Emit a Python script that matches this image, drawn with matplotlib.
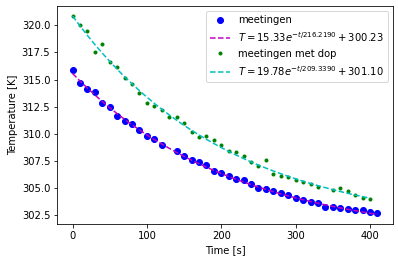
import numpy as np
import matplotlib
matplotlib.use("Agg")
import matplotlib.pyplot as plt

# meetingen (zonder dop), t = 130 s ontbreekt
t_open = [0, 10, 20, 30, 40, 50, 60, 70, 80, 90, 100, 110, 120,
          140, 150, 160, 170, 180, 190, 200, 210, 220, 230, 240, 250,
          260, 270, 280, 290, 300, 310, 320, 330, 340, 350, 360, 370,
          380, 390, 400, 410]
T_open = [315.92, 314.71, 314.16, 313.81, 312.86, 312.49, 311.65, 311.19,
          310.91, 310.35, 309.80, 309.52, 308.96,
          308.40, 307.94, 307.57, 307.38, 307.11, 306.55, 306.39, 306.09,
          305.83, 305.71, 305.37, 305.00, 304.91, 304.69, 304.54, 304.35,
          304.07, 303.89, 303.67, 303.58, 303.24, 303.24, 303.12, 303.02,
          302.93, 302.96, 302.77, 302.65]

# meetingen met dop, t = 340 s ontbreekt
t_dop = [0, 10, 20, 30, 40, 50, 60, 70, 80, 90, 100, 110, 120, 130, 140,
         150, 160, 170, 180, 190, 200, 210, 220, 230, 240, 250, 260, 270,
         280, 290, 300, 310, 320, 330, 350, 360, 370, 380, 390, 400]
T_dop = [320.86, 320.03, 319.44, 317.59, 318.27, 316.66, 316.20, 315.18,
         314.62, 313.78, 312.86, 312.51, 312.21, 311.56, 311.56, 311.00,
         310.17, 309.70, 309.80, 309.42, 308.96, 308.40, 308.31, 307.94,
         307.38, 307.01, 307.57, 306.27, 306.09, 305.99, 305.71, 305.53,
         305.34, 305.07, 304.79, 304.97, 304.69, 304.32, 304.04, 303.95]

# fitparameters T = a*exp(-t/tau) + c
fit_open = (15.33, 216.2190, 300.23)
fit_dop = (19.78, 209.3390, 301.10)


def model(t, a, tau, c):
    return a * np.exp(-np.asarray(t) / tau) + c


def label(a, tau, c):
    return f"$T = {a:.2f}e^{{-t/{tau:.4f}}} + {c:.2f}$"


fig = plt.figure(figsize=(398 / 72, 262 / 72), dpi=72)
ax = fig.add_axes([57.3 / 398, 1 - 224.3 / 262, 335.4 / 398, 218.3 / 262])

ax.plot(t_open, T_open, 'bo', label="meetingen")
ax.plot(t_open, model(t_open, *fit_open), 'm--', label=label(*fit_open))
ax.plot(t_dop, T_dop, 'g.', label="meetingen met dop")
ax.plot(t_dop, model(t_dop, *fit_dop), 'c--', label=label(*fit_dop))

ax.set_xlabel("Time [s]")
ax.set_ylabel("Temperature [K]")
ax.legend(loc="upper right")

fig.savefig("out.png", dpi=72)
